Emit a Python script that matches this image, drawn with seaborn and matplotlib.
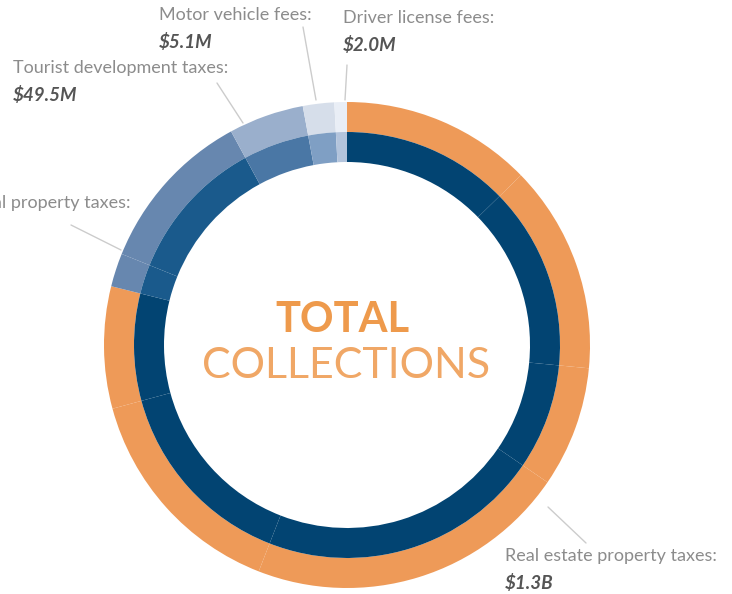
import matplotlib
matplotlib.use("Agg")
import matplotlib.pyplot as plt
import seaborn as sns

# slice spans (degrees, clockwise from 12 o'clock)
slice_names = ["Real estate 1", "Real estate 2", "Real estate 3", "Real estate 4",
               "Real estate 5", "Real estate 6", "Personal property 1",
               "Personal property 2", "Tourist development", "Motor vehicle",
               "Driver license"]
slice_spans = [45.7, 49.8, 28.9, 76.9, 53.5, 29.2, 8.0, 39.5, 18.0, 7.5, 3.0]
slice_group = ["re", "re", "re", "re", "re", "re", "pp", "pp", "td", "mv", "dl"]

outer_colors = {"re": "#ee9a58", "pp": "#6787af", "td": "#9aafcc",
                "mv": "#d6deea", "dl": "#e9eef6"}
inner_colors = {"re": "#024472", "pp": "#1a5a8c", "td": "#4a77a5",
                "mv": "#7f9fc4", "dl": "#b3c4dc"}

label_titles = ["Motor vehicle fees:", "Driver license fees:",
                "Tourist development taxes:", "Personal property taxes:",
                "Real estate property taxes:"]
label_values = ["$5.1M", "$2.0M", "$49.5M", "", "$1.3B"]

sns.set_theme(style="white")
plt.rcParams["font.family"] = ["Lato", "DejaVu Sans"]

fig = plt.figure(figsize=(7.32, 5.94), dpi=100)
ax = fig.add_axes([0, 0, 1, 1])

center = (347, 345)
# y axis is flipped below, so counterclock=True runs clockwise on screen
ax.pie(slice_spans, colors=[outer_colors[g] for g in slice_group],
       radius=243, center=center, startangle=-90, counterclock=True,
       wedgeprops=dict(width=30, linewidth=0), frame=True)
ax.pie(slice_spans, colors=[inner_colors[g] for g in slice_group],
       radius=213, center=center, startangle=-90, counterclock=True,
       wedgeprops=dict(width=30, linewidth=0), frame=True)
ax.set_xlim(0, 732)
ax.set_ylim(594, 0)
ax.set_aspect("equal")
ax.axis("off")

orange = "#ee9a4c"
ax.text(342, 320, "TOTAL", ha="center", va="center", fontsize=30,
        fontweight="bold", color=orange)
ax.text(346, 366, "COLLECTIONS", ha="center", va="center", fontsize=31,
        fontweight="normal", color="#f0a766")

# leader lines
leaders = [((303, 27), (316, 100)), ((347, 65), (345, 100)),
           ((217, 83), (243, 123)), ((71, 225), (121, 250)),
           ((548, 507), (586, 543))]
for (x0, y0), (x1, y1) in leaders:
    ax.plot([x0, x1], [y0, y1], color="#cccccc", lw=1)

label_pos = [(159, 15, "left"), (343, 18, "left"), (13, 68, "left"),
             (130, 203, "right"), (505, 556, "left")]
for (x, y, ha), title, val in zip(label_pos, label_titles, label_values):
    ax.text(x, y, title, ha=ha, va="center", fontsize=13,
            fontweight="normal", color="#8c8c8c")
    if val:
        ax.text(x, y + 27, val, ha=ha, va="center", fontsize=13.5,
                fontweight="bold", fontstyle="italic", color="#555555")

fig.savefig("out.png", dpi=100)
